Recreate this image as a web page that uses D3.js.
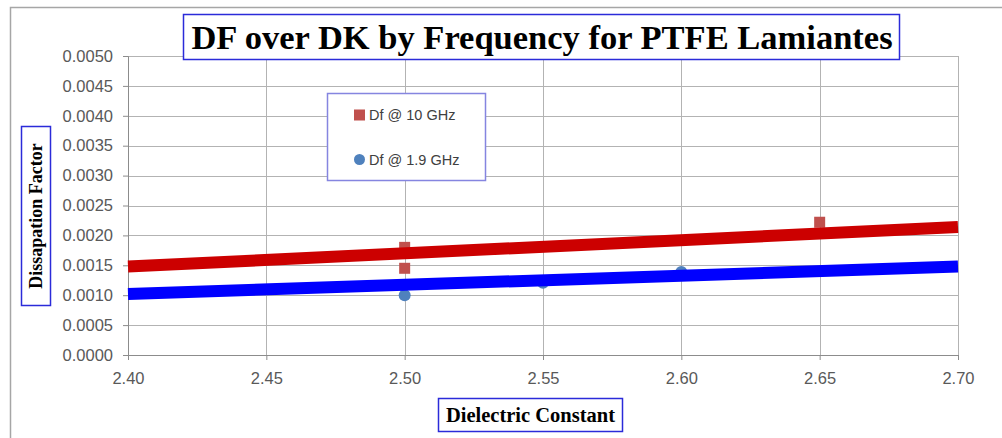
<!DOCTYPE html>
<html>
<head>
<meta charset="utf-8">
<script src="https://cdn.jsdelivr.net/npm/d3@7"></script>
<style>
  body { margin: 0; background: #fff; }
  svg { display: block; }
  .tick text { font-family: "Liberation Sans", Arial, sans-serif; font-size: 16.5px; fill: #595959; }
  .boxTitle { font-family: "Liberation Serif", "Times New Roman", serif; font-weight: bold; fill: #000; }
</style>
</head>
<body>
<div id="chart"></div>
<script>
// Data
const df10Dk = [2.50, 2.50, 2.65]
const df10Val = [0.00180, 0.00145, 0.00222]
const df19Dk = [2.50, 2.55, 2.60]
const df19Val = [0.00100, 0.00121, 0.00139]

// trend lines (end points)
const trendDk = [2.40, 2.70]
const trend10 = [0.00148, 0.00214]
const trend19 = [0.00102, 0.00148]

const xTicks = [2.40, 2.45, 2.50, 2.55, 2.60, 2.65, 2.70]
const yTicks = [0, 0.0005, 0.0010, 0.0015, 0.0020, 0.0025, 0.0030, 0.0035, 0.0040, 0.0045, 0.0050]

const legendLabels = ["Df @ 10 GHz", "Df @ 1.9 GHz"]
const titleText = "DF over DK by Frequency for PTFE Lamiantes"

function drawChart() {
    let dimensions = {
        width: 1002,
        height: 438,
        margin: { top: 56, right: 44, bottom: 83, left: 128 }
    }
    dimensions.boundedWidth = dimensions.width - dimensions.margin.left - dimensions.margin.right
    dimensions.boundedHeight = dimensions.height - dimensions.margin.top - dimensions.margin.bottom

    const svg = d3.select("#chart").append("svg")
        .attr("width", dimensions.width)
        .attr("height", dimensions.height)

    // outer chart frame (top and left edges visible)
    svg.append("path")
        .attr("d", "M10.5,440 L10.5,7.5 L1004,7.5")
        .attr("fill", "none")
        .attr("stroke", "#a6a6a6")
        .attr("stroke-width", 1.5)

    const bounds = svg.append("g")
        .attr("transform", `translate(${dimensions.margin.left}, ${dimensions.margin.top})`)

    const xScale = d3.scaleLinear()
        .domain([2.40, 2.70])
        .range([0, dimensions.boundedWidth])
    const yScale = d3.scaleLinear()
        .domain([0, 0.005])
        .range([dimensions.boundedHeight, 0])

    // gridlines
    bounds.append("g")
        .selectAll("line")
        .data(yTicks)
        .enter().append("line")
        .attr("x1", 0).attr("x2", dimensions.boundedWidth)
        .attr("y1", d => Math.round(yScale(d)) + 0.5)
        .attr("y2", d => Math.round(yScale(d)) + 0.5)
        .attr("stroke", "#b3b3b3")
    bounds.append("g")
        .selectAll("line")
        .data(xTicks)
        .enter().append("line")
        .attr("y1", 0).attr("y2", dimensions.boundedHeight)
        .attr("x1", d => Math.round(xScale(d)) + 0.5)
        .attr("x2", d => Math.round(xScale(d)) + 0.5)
        .attr("stroke", "#b3b3b3")

    // axes
    bounds.append("g")
        .call(d3.axisLeft(yScale).tickValues(yTicks).tickFormat(d3.format(".4f")).tickSize(5).tickPadding(10))
    bounds.append("g")
        .attr("transform", `translate(0, ${dimensions.boundedHeight})`)
        .call(d3.axisBottom(xScale).tickValues(xTicks).tickFormat(d3.format(".2f")).tickSize(5).tickPadding(12))
    svg.selectAll(".domain").attr("stroke", "#8c8c8c")
    svg.selectAll(".tick line").attr("stroke", "#8c8c8c")

    // markers
    bounds.append("g")
        .selectAll("rect")
        .data(df10Dk.map((d, i) => [d, df10Val[i]]))
        .enter().append("rect")
        .attr("x", d => xScale(d[0]) - 5.5)
        .attr("y", d => yScale(d[1]) - 5.5)
        .attr("width", 11).attr("height", 11)
        .attr("fill", "#c0504d")
    bounds.append("g")
        .selectAll("circle")
        .data(df19Dk.map((d, i) => [d, df19Val[i]]))
        .enter().append("circle")
        .attr("cx", d => xScale(d[0]))
        .attr("cy", d => yScale(d[1]))
        .attr("r", 6)
        .attr("fill", "#4f81bd")

    // trend lines
    const lineGen = d3.line()
        .x(d => xScale(d[0]))
        .y(d => yScale(d[1]))
    bounds.append("path")
        .datum(trendDk.map((d, i) => [d, trend10[i]]))
        .attr("d", lineGen)
        .attr("fill", "none")
        .attr("stroke", "#cc0000")
        .attr("stroke-width", 12)
    bounds.append("path")
        .datum(trendDk.map((d, i) => [d, trend19[i]]))
        .attr("d", lineGen)
        .attr("fill", "none")
        .attr("stroke", "#0000ff")
        .attr("stroke-width", 12)

    // title box
    const titleG = svg.append("g")
    titleG.append("rect")
        .attr("x", 183.5).attr("y", 14.5)
        .attr("width", 716).attr("height", 45)
        .attr("fill", "#fff")
        .attr("stroke", "#2b2bd9")
        .attr("stroke-width", 1.5)
    titleG.append("text")
        .attr("class", "boxTitle")
        .attr("x", 542)
        .attr("y", 49)
        .attr("text-anchor", "middle")
        .style("font-size", "34.5px")
        .text(titleText)

    // y axis title
    const yTitleG = svg.append("g")
    yTitleG.append("rect")
        .attr("x", 21.5).attr("y", 126.5)
        .attr("width", 29).attr("height", 179)
        .attr("fill", "#fff")
        .attr("stroke", "#2b2bd9")
        .attr("stroke-width", 1.5)
    yTitleG.append("text")
        .attr("class", "boxTitle")
        .attr("transform", "translate(42, 216) rotate(-90)")
        .attr("text-anchor", "middle")
        .style("font-size", "18px")
        .text("Dissapation Factor")

    // x axis title
    const xTitleG = svg.append("g")
    xTitleG.append("rect")
        .attr("x", 438.5).attr("y", 398.5)
        .attr("width", 184).attr("height", 33)
        .attr("fill", "#fff")
        .attr("stroke", "#2b2bd9")
        .attr("stroke-width", 1.5)
    xTitleG.append("text")
        .attr("class", "boxTitle")
        .attr("x", 530.5)
        .attr("y", 422)
        .attr("text-anchor", "middle")
        .style("font-size", "20.5px")
        .text("Dielectric Constant")

    // legend
    const legend = svg.append("g")
    legend.append("rect")
        .attr("x", 327.5).attr("y", 93.5)
        .attr("width", 158).attr("height", 87)
        .attr("fill", "#fff")
        .attr("stroke", "#8585e0")
        .attr("stroke-width", 1.5)
    legend.append("rect")
        .attr("x", 354).attr("y", 109.5)
        .attr("width", 11).attr("height", 11)
        .attr("fill", "#c0504d")
    legend.append("circle")
        .attr("cx", 359.5).attr("cy", 159.5)
        .attr("r", 5.5)
        .attr("fill", "#4f81bd")
    legend.selectAll(".legend-label")
        .data(legendLabels)
        .enter().append("text")
        .attr("class", "legend-label")
        .attr("x", 369)
        .attr("y", (d, i) => 120 + i * 45)
        .style("font-family", "\"Liberation Sans\", Arial, sans-serif")
        .style("font-size", "14.5px")
        .attr("fill", "#404040")
        .text(d => d)
}
drawChart()
</script>
</body>
</html>
